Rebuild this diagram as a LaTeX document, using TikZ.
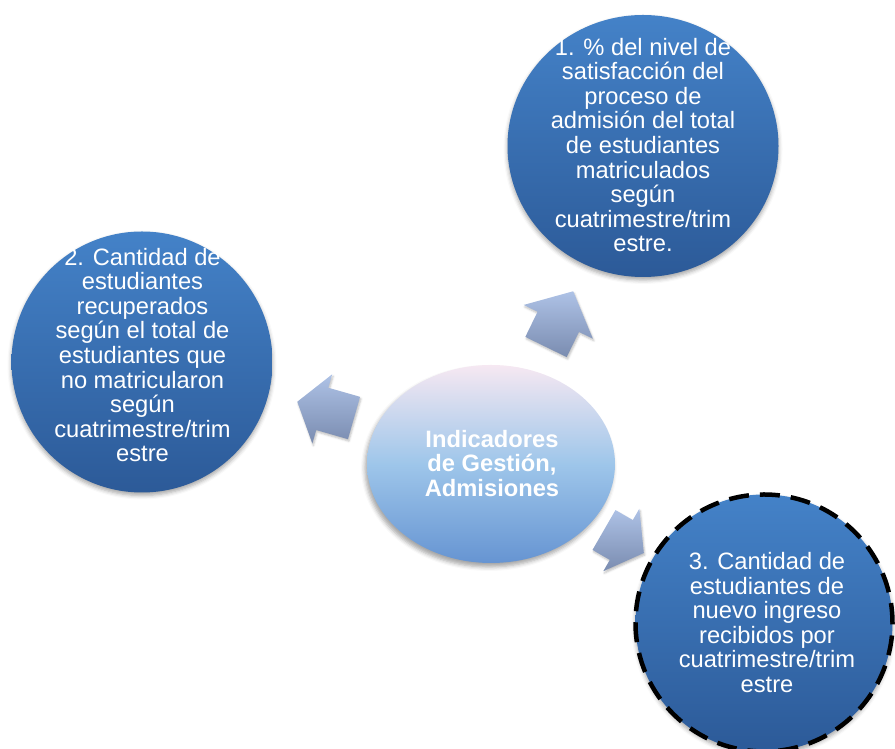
\documentclass[tikz,border=0pt]{standalone}
\usepackage{fontspec}
\setmainfont{Liberation Sans}
\usetikzlibrary{shapes.geometric,shadows.blur}

\definecolor{bluetop}{RGB}{68,130,200}
\definecolor{bluebot}{RGB}{44,90,152}
\definecolor{hubtop}{RGB}{246,232,242}
\definecolor{hubmid}{RGB}{158,198,234}
\definecolor{hubbot}{RGB}{102,148,210}
\definecolor{arrtop}{RGB}{174,194,230}
\definecolor{arrbot}{RGB}{122,140,176}

\tikzset{
  satellite/.style={ellipse, draw=none, inner sep=0pt,
    top color=bluetop, bottom color=bluebot,
    blur shadow={shadow xshift=0pt, shadow yshift=-3pt, shadow blur radius=4pt, shadow opacity=35}},
  hub/.style={ellipse, draw=none, inner sep=0pt,
    top color=hubtop, bottom color=hubbot, middle color=hubmid,
    blur shadow={shadow xshift=-2pt, shadow yshift=-4pt, shadow blur radius=4pt, shadow opacity=35}},
  label text/.style={text=white, align=center, inner sep=0pt,
    font=\fontsize{23.7pt}{24.6pt}\selectfont},
  dashring/.style={draw=black, line width=4.5pt, dash pattern=on 20pt off 11pt},
  arrowshade/.style={top color=arrtop, bottom color=arrbot, draw=none,
    blur shadow={shadow xshift=1pt, shadow yshift=-2pt, shadow blur radius=2pt, shadow opacity=25}}
}

% block arrow: rear midpoint (#1,#2), direction #3, shaft length #4,
% head length #5, shaft half-width #6, head half-width #7
\newcommand\blockarr[7]{%
  \shade[arrowshade, shift={(#1,#2)}, rotate=#3]
    (0,-#6) -- (#4,-#6) -- (#4,-#7) -- ({#4+#5},0) -- (#4,#7) -- (#4,#6) -- (0,#6) -- cycle;}

\begin{document}
\begin{tikzpicture}[x=1pt,y=1pt]
\useasboundingbox (0,0) rectangle (895,749);

% outer indicator circles
\node[satellite, minimum width=271pt, minimum height=262pt] (c1) at (643,603) {};
\node[satellite, minimum width=261pt, minimum height=261pt] (c2) at (142,387) {};
\node[satellite, minimum width=257pt, minimum height=257pt] (c3) at (764,126) {};
\draw[dashring] (c3.center) circle[radius=128.5pt];

% central hub
\node[hub, minimum width=248pt, minimum height=198pt] (hub) at (491,285) {};

% diverging arrows
\blockarr{546}{402}{64}{28}{34}{23}{38.5}
\blockarr{354}{331}{164}{33}{26}{22}{36}
\blockarr{604}{219}{-30}{20}{26}{23}{36}

% texts
\node[label text] (t1) at (643,604) {1. \% del nivel de\\satisfacción del\\proceso de\\admisión del total\\de estudiantes\\matriculados\\según\\cuatrimestre/trim\\estre.};
\node[label text] (t2) at (142.5,394) {2. Cantidad de\\estudiantes\\recuperados\\según el total de\\estudiantes que\\no matricularon\\según\\cuatrimestre/trim\\estre};
\node[label text] (t3) at (767,126.5) {3. Cantidad de\\estudiantes de\\nuevo ingreso\\recibidos por\\cuatrimestre/trim\\estre};
\node[label text, font=\fontsize{23.7pt}{24.6pt}\selectfont\bfseries] (th) at (492,285.5) {Indicadores\\de Gestión,\\Admisiones};
\end{tikzpicture}
\end{document}
